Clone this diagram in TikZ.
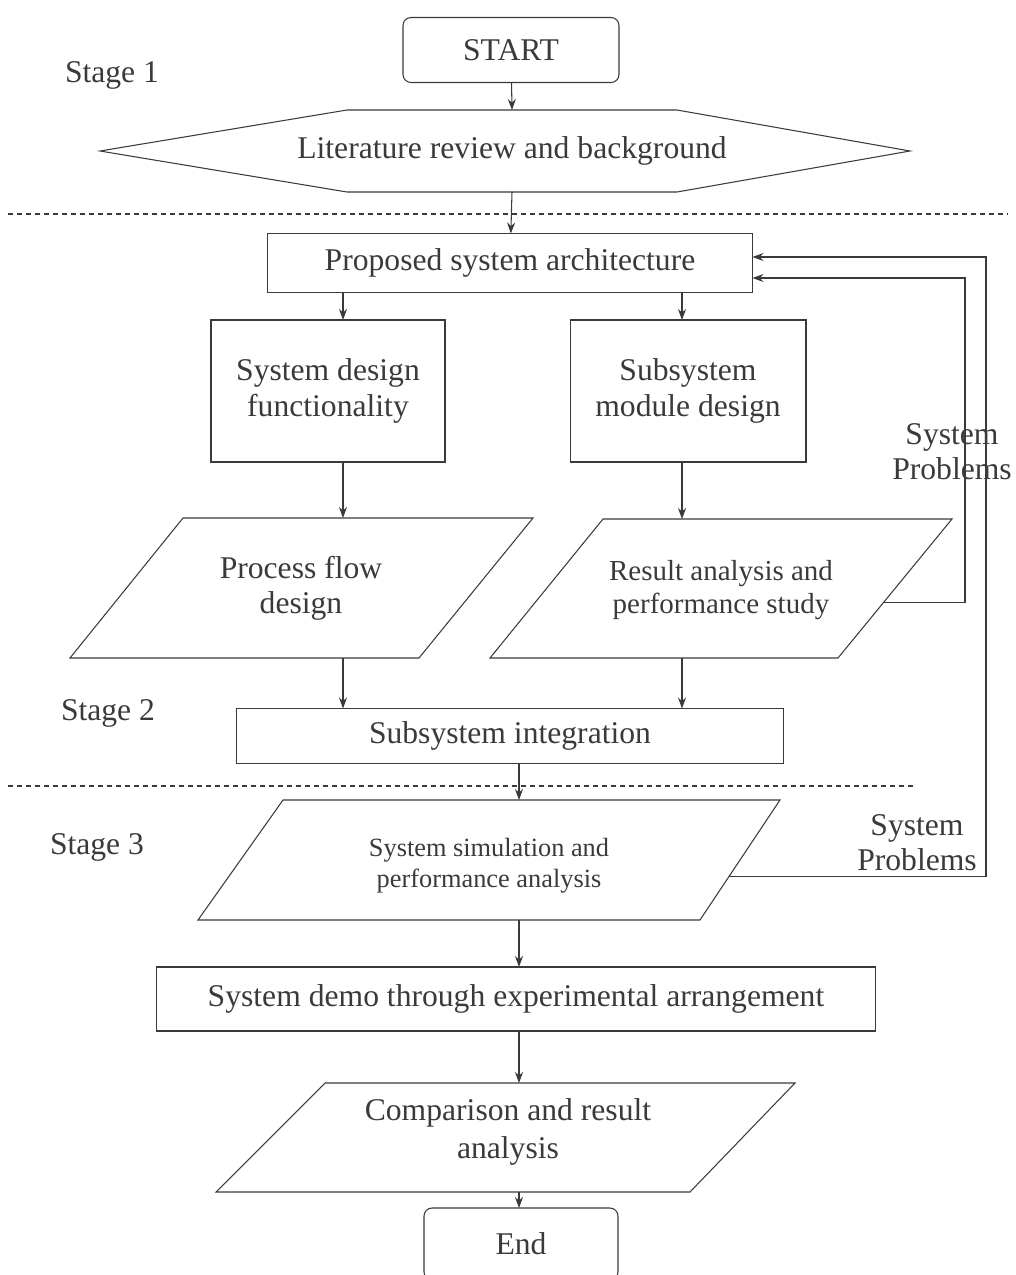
\documentclass[tikz,border=0pt]{standalone}
\usepackage{fontspec}
\setmainfont{Liberation Serif}
\usetikzlibrary{arrows.meta,calc}
\definecolor{inkgray}{HTML}{3A3A3A}
\begin{document}
\begin{tikzpicture}[
    x=0.02cm, y=-0.02cm,
    every node/.style={text=inkgray, font=\fontsize{18}{20}\selectfont},
    terminal/.style={rectangle, draw=inkgray, line width=0.6pt, rounded corners=0.16cm, align=center, inner sep=0pt, outer sep=0pt},
    process/.style={rectangle, draw=inkgray, line width=0.6pt, align=center, inner sep=0pt, outer sep=0pt},
    label/.style={align=center, inner sep=0pt},
    outline/.style={draw=inkgray, line width=0.6pt},
    arrow/.style={draw=inkgray, line width=0.6pt, -{Stealth[length=0.22cm,width=0.16cm]}},
    divider/.style={draw=inkgray, line width=0.6pt, dash pattern=on 0.1cm off 0.08cm}
]
    \useasboundingbox (0,0) rectangle (1016,1275);

    % Stage 1
    \node [terminal, minimum width=4.32cm, minimum height=1.3cm] (start) at (511,50) {START};
    \node [label] (lit) at (512,151) {Literature review and background};
    \draw [outline] ($(lit)+(-165,-41)$) -- ($(lit)+(165,-41)$) -- ($(lit)+(398,0)$)
        -- ($(lit)+(165,41)$) -- ($(lit)+(-165,41)$) -- ($(lit)+(-412,0)$) -- cycle;
    \coordinate (littop) at ($(lit)+(0,-41)$);
    \coordinate (litbot) at ($(lit)+(0,41)$);
    \node [label] (stageone) at (112,75) {Stage 1};

    \draw [divider] (8,214) -- (1008,214);

    % Stage 2
    \node [process, minimum width=9.7cm, minimum height=1.18cm] (arch) at (510,263) {Proposed system architecture};
    \node [process, minimum width=4.68cm, minimum height=2.84cm] (sysdes) at (328,391) {System design\\functionality};
    \node [process, minimum width=4.72cm, minimum height=2.84cm] (subsys) at (688,391) {Subsystem\\module design};

    \node [label] (procflow) at (301,588) {Process flow\\design};
    \coordinate (procflow-tl) at (183,518);
    \coordinate (procflow-tr) at (533,518);
    \coordinate (procflow-br) at (419,658);
    \coordinate (procflow-bl) at (70,658);
    \draw [outline] (procflow-tl) -- (procflow-tr) -- (procflow-br) -- (procflow-bl) -- cycle;

    \node [label, font=\fontsize{16.5}{19}\selectfont] (result) at (721,590) {Result analysis and\\performance study};
    \coordinate (result-tl) at (603,519);
    \coordinate (result-tr) at (952,519);
    \coordinate (result-br) at (838,658);
    \coordinate (result-bl) at (490,658);
    \draw [outline] (result-tl) -- (result-tr) -- (result-br) -- (result-bl) -- cycle;

    \node [process, minimum width=10.94cm, minimum height=1.1cm] (integ) at (510,736) {Subsystem integration};
    \node [label] (stagetwo) at (108,713) {Stage 2};

    \draw [divider] (8,786) -- (915,786);

    % Stage 3
    \node [label, font=\fontsize{15}{17.5}\selectfont] (sim) at (489,866) {System simulation and\\performance analysis};
    \coordinate (sim-tl) at (283,800);
    \coordinate (sim-tr) at (780,800);
    \coordinate (sim-br) at (700,920);
    \coordinate (sim-bl) at (198,920);
    \draw [outline] (sim-tl) -- (sim-tr) -- (sim-br) -- (sim-bl) -- cycle;

    \node [process, minimum width=14.38cm, minimum height=1.28cm] (demo) at (516,999) {System demo through experimental arrangement};

    \node [label, font=\fontsize{18}{22}\selectfont] (comp) at (508,1132) {Comparison and result\\analysis};
    \coordinate (comp-tl) at (325,1083);
    \coordinate (comp-tr) at (795,1083);
    \coordinate (comp-br) at (690,1192);
    \coordinate (comp-bl) at (216,1192);
    \draw [outline] (comp-tl) -- (comp-tr) -- (comp-br) -- (comp-bl) -- cycle;

    \node [terminal, minimum width=3.88cm, minimum height=1.44cm] (end) at (521,1244) {End};
    \node [label] (stagethree) at (97,847) {Stage 3};

    % Columns
    \coordinate (lcol) at (343,0);
    \coordinate (rcol) at (682,0);
    \coordinate (mcol) at (519,0);

    % Connections
    \draw [arrow] (start) -- (littop);
    \draw [arrow] (litbot) -- (arch);
    \draw [arrow] (arch.south -| lcol) -- (sysdes.north -| lcol);
    \draw [arrow] (arch.south -| rcol) -- (subsys.north -| rcol);
    \draw [arrow] (sysdes.south -| lcol) -- (procflow-tl -| lcol);
    \draw [arrow] (subsys.south -| rcol) -- (result-tl -| rcol);
    \draw [arrow] (procflow-bl -| lcol) -- (integ.north -| lcol);
    \draw [arrow] (result-bl -| rcol) -- (integ.north -| rcol);
    \draw [arrow] (integ.south -| mcol) -- (sim-tl -| mcol);
    \draw [arrow] (sim-bl -| mcol) -- (demo.north -| mcol);
    \draw [arrow] (demo.south -| mcol) -- (comp-tl -| mcol);
    \draw [arrow] (comp-bl -| mcol) -- (end.north -| mcol);

    % Feedback loops
    \coordinate (outer) at (986,0);
    \coordinate (inner) at (965,0);
    \coordinate (archtop) at ([yshift=0.12cm]arch.east);
    \coordinate (archbot) at ([yshift=-0.3cm]arch.east);
    \coordinate (simout) at ($(sim-br)!0.36!(sim-tr)$);
    \coordinate (resout) at ($(result-br)!0.40!(result-tr)$);
    \draw [arrow] (simout) -- (simout -| outer) |- (archtop);
    \draw [arrow] (resout) -- (resout -| inner) |- (archbot);
    \node [label] (probone) at (917,843) {System\\Problems};
    \node [label] (probtwo) at (952,452) {System\\Problems};
\end{tikzpicture}
\end{document}
